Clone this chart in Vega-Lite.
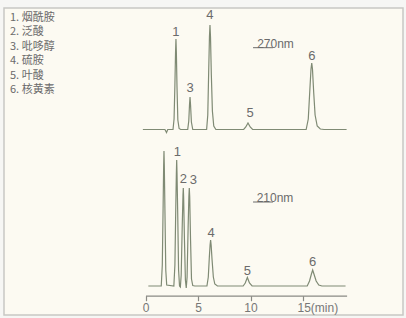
{
  "$schema": "https://vega.github.io/schema/vega-lite/v6.json",
  "width": 399,
  "height": 307,
  "autosize": "none",
  "padding": {"left": 4, "top": 8, "right": 3, "bottom": 3},
  "background": "#f6f6f4",
  "config": {
    "view": {"fill": "#fcfaf2", "stroke": "#c8c8c4", "strokeWidth": 1.5},
    "legend": {
      "orient": "none", "legendX": -5, "legendY": 4, "title": null,
      "symbolOpacity": 0, "symbolSize": 0, "symbolStrokeWidth": 0,
      "labelOffset": 0, "labelFontSize": 11, "labelFont": "Noto Sans CJK SC",
      "labelColor": "#6b6b6b", "rowPadding": 2.5
    }
  },
  "datasets": {
    "traces": [
      {"nm":"270nm","t":-0.25,"s":185.5},{"nm":"270nm","t":1.85,"s":185.5},{"nm":"270nm","t":2.0,"s":182.5},{"nm":"270nm","t":2.12,"s":185.5},{"nm":"270nm","t":2.62,"s":185.5},{"nm":"270nm","t":2.72,"s":196},{"nm":"270nm","t":2.8,"s":230},{"nm":"270nm","t":2.86,"s":262},{"nm":"270nm","t":2.9,"s":276},{"nm":"270nm","t":2.94,"s":262},{"nm":"270nm","t":3.0,"s":228},{"nm":"270nm","t":3.08,"s":195},{"nm":"270nm","t":3.2,"s":186.5},{"nm":"270nm","t":3.35,"s":185.5},
      {"nm":"270nm","t":4.02,"s":185.5},{"nm":"270nm","t":4.12,"s":194},{"nm":"270nm","t":4.19,"s":210},{"nm":"270nm","t":4.24,"s":218},{"nm":"270nm","t":4.29,"s":210},{"nm":"270nm","t":4.37,"s":193},{"nm":"270nm","t":4.5,"s":185.5},
      {"nm":"270nm","t":5.82,"s":185.5},{"nm":"270nm","t":5.93,"s":200},{"nm":"270nm","t":6.02,"s":245},{"nm":"270nm","t":6.09,"s":278},{"nm":"270nm","t":6.14,"s":290},{"nm":"270nm","t":6.19,"s":278},{"nm":"270nm","t":6.27,"s":240},{"nm":"270nm","t":6.37,"s":204},{"nm":"270nm","t":6.5,"s":189},{"nm":"270nm","t":6.7,"s":185.5},
      {"nm":"270nm","t":9.35,"s":185.5},{"nm":"270nm","t":9.55,"s":188},{"nm":"270nm","t":9.76,"s":192},{"nm":"270nm","t":9.97,"s":188},{"nm":"270nm","t":10.2,"s":185.5},
      {"nm":"270nm","t":15.3,"s":185.5},{"nm":"270nm","t":15.5,"s":196},{"nm":"270nm","t":15.65,"s":225},{"nm":"270nm","t":15.76,"s":246},{"nm":"270nm","t":15.83,"s":252},{"nm":"270nm","t":15.9,"s":246},{"nm":"270nm","t":16.02,"s":222},{"nm":"270nm","t":16.15,"s":200},{"nm":"270nm","t":16.35,"s":189},{"nm":"270nm","t":16.65,"s":186},{"nm":"270nm","t":17.0,"s":185.5},{"nm":"270nm","t":19.15,"s":185.5},
      {"nm":"210nm","t":0.27,"s":29},{"nm":"210nm","t":1.5,"s":29},{"nm":"210nm","t":1.6,"s":50},{"nm":"210nm","t":1.68,"s":110},{"nm":"210nm","t":1.73,"s":150},{"nm":"210nm","t":1.76,"s":164},{"nm":"210nm","t":1.79,"s":150},{"nm":"210nm","t":1.85,"s":105},{"nm":"210nm","t":1.93,"s":45},{"nm":"210nm","t":2.02,"s":30},{"nm":"210nm","t":2.7,"s":29},{"nm":"210nm","t":2.8,"s":50},{"nm":"210nm","t":2.88,"s":105},{"nm":"210nm","t":2.94,"s":142},{"nm":"210nm","t":2.97,"s":155},{"nm":"210nm","t":3.0,"s":142},{"nm":"210nm","t":3.07,"s":100},{"nm":"210nm","t":3.15,"s":45},{"nm":"210nm","t":3.24,"s":29},{"nm":"210nm","t":3.32,"s":28},{"nm":"210nm","t":3.4,"s":40},{"nm":"210nm","t":3.5,"s":90},{"nm":"210nm","t":3.57,"s":120},{"nm":"210nm","t":3.6,"s":127},{"nm":"210nm","t":3.63,"s":118},{"nm":"210nm","t":3.71,"s":75},{"nm":"210nm","t":3.8,"s":35},{"nm":"210nm","t":3.88,"s":27},{"nm":"210nm","t":3.96,"s":38},{"nm":"210nm","t":4.06,"s":88},{"nm":"210nm","t":4.13,"s":118},{"nm":"210nm","t":4.17,"s":127},{"nm":"210nm","t":4.21,"s":118},{"nm":"210nm","t":4.29,"s":75},{"nm":"210nm","t":4.38,"s":36},{"nm":"210nm","t":4.5,"s":29.5},{"nm":"210nm","t":4.7,"s":29},
      {"nm":"210nm","t":5.85,"s":29},{"nm":"210nm","t":5.98,"s":38},{"nm":"210nm","t":6.08,"s":58},{"nm":"210nm","t":6.15,"s":70},{"nm":"210nm","t":6.2,"s":75},{"nm":"210nm","t":6.25,"s":70},{"nm":"210nm","t":6.34,"s":55},{"nm":"210nm","t":6.46,"s":38},{"nm":"210nm","t":6.6,"s":31},{"nm":"210nm","t":6.85,"s":29},
      {"nm":"210nm","t":9.3,"s":29},{"nm":"210nm","t":9.5,"s":32},{"nm":"210nm","t":9.7,"s":37.5},{"nm":"210nm","t":9.9,"s":32},{"nm":"210nm","t":10.15,"s":29},
      {"nm":"210nm","t":15.4,"s":29},{"nm":"210nm","t":15.62,"s":34},{"nm":"210nm","t":15.8,"s":41},{"nm":"210nm","t":15.92,"s":45},{"nm":"210nm","t":16.04,"s":41},{"nm":"210nm","t":16.25,"s":34},{"nm":"210nm","t":16.5,"s":30},{"nm":"210nm","t":16.8,"s":29},{"nm":"210nm","t":19.05,"s":29}
    ],
    "labels": [
      {"nm":"270nm","label":"1","compound":"1. 烟酰胺","t":2.88,"s":283},
      {"nm":"270nm","label":"3","compound":"3. 吡哆醇","t":4.24,"s":227},
      {"nm":"270nm","label":"4","compound":"4. 硫胺","t":6.14,"s":300},
      {"nm":"270nm","label":"5","compound":"5. 叶酸","t":9.95,"s":202},
      {"nm":"270nm","label":"6","compound":"6. 核黄素","t":15.83,"s":259},
      {"nm":"210nm","label":"1","compound":"1. 烟酰胺","t":3.03,"s":163},
      {"nm":"210nm","label":"2","compound":"2. 泛酸","t":3.6,"s":136},
      {"nm":"210nm","label":"3","compound":"3. 吡哆醇","t":4.55,"s":135},
      {"nm":"210nm","label":"4","compound":"4. 硫胺","t":6.24,"s":82},
      {"nm":"210nm","label":"5","compound":"5. 叶酸","t":9.7,"s":44},
      {"nm":"210nm","label":"6","compound":"6. 核黄素","t":15.92,"s":53}
    ],
    "notes": [
      {"text":"270nm","t":12.38,"s":271,"u0":10.24,"u1":12.14,"us":267.3},
      {"text":"210nm","t":12.33,"s":117,"u0":10.24,"u1":12.14,"us":113}
    ]
  },
  "layer": [
    {
      "data": {"name": "traces"},
      "mark": {"type": "line", "color": "#7f8a74", "strokeWidth": 1.2},
      "encoding": {
        "x": {
          "field": "t", "type": "quantitative",
          "scale": {"domain": [0, 19.15], "range": [141.5, 342.6], "nice": false, "zero": false},
          "axis": {
            "title": null, "values": [0, 5, 10, 15], "grid": false,
            "domainColor": "#8a8a84", "domainWidth": 1.2, "tickColor": "#8a8a84", "tickSize": 5, "tickWidth": 1.2,
            "labelColor": "#777777", "labelFontSize": 12, "labelFont": "Liberation Sans", "labelPadding": 2,
            "labelFlush": false, "labelOverlap": false,
            "labelExpr": "datum.value == 15 ? '15(min)' : datum.label",
            "labelAlign": {"condition": {"test": "datum.value == 15", "value": "left"}, "value": "center"},
            "labelOffset": {"condition": {"test": "datum.value == 15", "value": -6}, "value": 0},
            "offset": -19.3
          }
        },
        "y": {"field": "s", "type": "quantitative", "scale": {"domain": [0, 307], "nice": false, "zero": false}, "axis": null},
        "detail": {"field": "nm"}
      }
    },
    {
      "data": {"name": "labels"},
      "mark": {"type": "text", "fontSize": 13, "font": "Liberation Sans", "baseline": "middle", "align": "center"},
      "encoding": {
        "x": {"field": "t", "type": "quantitative"},
        "y": {"field": "s", "type": "quantitative"},
        "text": {"field": "label"},
        "color": {"field": "compound", "type": "nominal", "scale": {"range": ["#6b6b6b"]}}
      }
    },
    {
      "data": {"name": "notes"},
      "mark": {"type": "text", "fontSize": 12, "font": "Liberation Sans", "baseline": "middle", "align": "center", "color": "#6b6b6b"},
      "encoding": {
        "x": {"field": "t", "type": "quantitative"},
        "y": {"field": "s", "type": "quantitative"},
        "text": {"field": "text"}
      }
    },
    {
      "data": {"name": "notes"},
      "mark": {"type": "rule", "color": "#6b6b6b", "strokeWidth": 1},
      "encoding": {
        "x": {"field": "u0", "type": "quantitative"},
        "x2": {"field": "u1"},
        "y": {"field": "us", "type": "quantitative"}
      }
    }
  ]
}
